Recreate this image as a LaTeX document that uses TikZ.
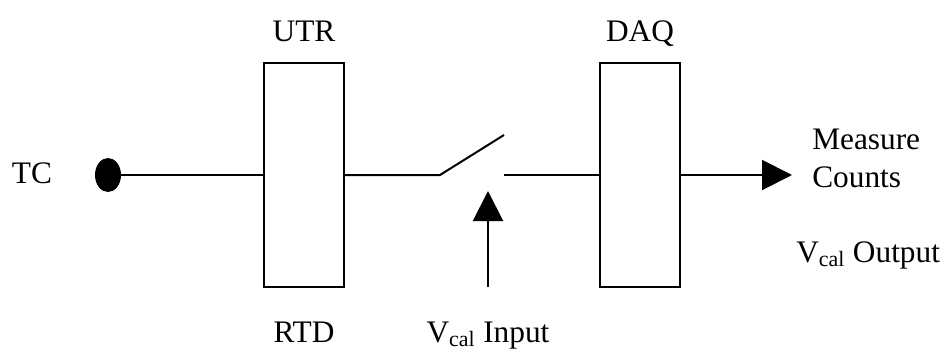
\documentclass[tikz,border=0pt]{standalone}
\usepackage{xcolor}
\usepackage{fontspec}
\setmainfont{Liberation Serif}
\usetikzlibrary{arrows.meta, shapes.geometric}

\tikzset{
    block/.style={rectangle, draw, line width=1.5pt, minimum width=60pt, minimum height=168pt, inner sep=0pt},
    wire/.style={line width=1.5pt},
    feed/.style={wire, -{Triangle[width=22.5pt, length=22.5pt]}},
    tag/.style={font=\fontsize{23.5}{28}\selectfont, inner sep=0pt, anchor=base},
}

\begin{document}
\begin{tikzpicture}[x=0.75pt, y=0.75pt]
    \useasboundingbox (0,0) rectangle (947,-350);

    \node[block] (utr) at (304,-175) {};
    \node[block] (daq) at (640,-175) {};
    \node[ellipse, fill=black, minimum width=19.5pt, minimum height=25.5pt, inner sep=0pt] (tc) at (108,-175) {};

    \coordinate (pivot) at (440,-175);
    \coordinate (blade) at (504,-135);
    \coordinate (contact) at (504,-175);
    \coordinate (trigger) at (488,-287);
    \coordinate (gate) at (488,-191);
    \coordinate (output) at (792,-175);

    \node[tag] (tclabel) at (32,-183) {TC};
    \node[tag] (utrlabel) at (304,-41) {UTR};
    \node[tag] (daqlabel) at (640,-41) {DAQ};
    \node[tag] (rtdlabel) at (304,-342) {RTD};
    \node[tag] (inlabel) at (488,-342) {V\textsubscript{cal} Input};
    \node[tag, anchor=base west] (measure) at (812,-149) {Measure};
    \node[tag, anchor=base west] (counts) at (812,-187) {Counts};
    \node[tag, anchor=base west] (outlabel) at (796,-262) {V\textsubscript{cal} Output};

    \draw[wire] (tc) -- (utr);
    \draw[wire] (utr) -- (pivot) -- (blade);
    \draw[wire] (contact) -- (daq);
    \draw[feed] (trigger) -- (gate);
    \draw[feed] (daq) -- (output);
\end{tikzpicture}
\end{document}
